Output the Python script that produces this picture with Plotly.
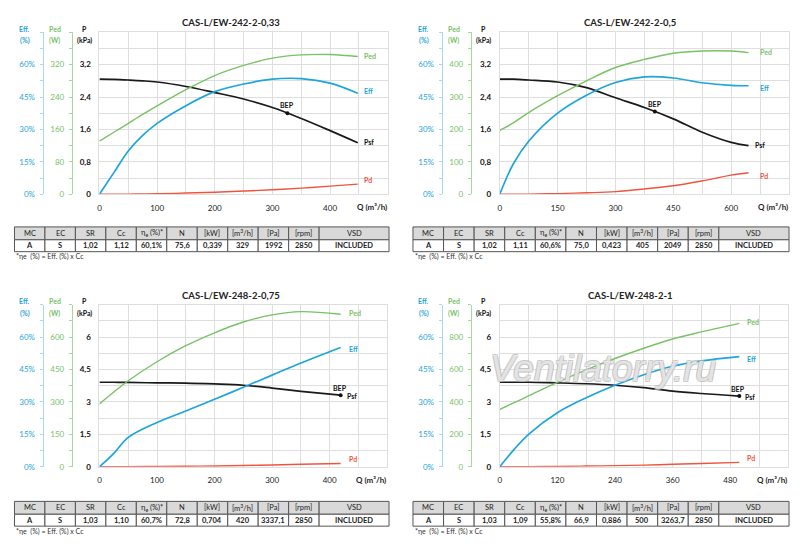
import plotly.graph_objects as go

W, H = 800, 548

titles = ["CAS-L/EW-242-2-0,33", "CAS-L/EW-242-2-0,5",
          "CAS-L/EW-248-2-0,75", "CAS-L/EW-248-2-1"]

# curve values (Q in m3/h, P in kPa, Eff in %, Ped in W)
q1 = [0, 25, 50, 75, 100, 150, 200, 250, 300, 350, 400, 448]
psf1 = [2.84, 2.835, 2.82, 2.80, 2.77, 2.66, 2.51, 2.35, 2.14, 1.87, 1.57, 1.27]
eff1 = [0, 10, 20, 27.2, 32.8, 41, 47.5, 51, 53.3, 53.5, 51.4, 46.7]
ped1 = [131, 153, 175, 197, 218, 258, 293, 318, 336, 344, 345, 340]
pd1 = [0, 0, 0.003, 0.007, 0.012, 0.028, 0.05, 0.078, 0.11, 0.15, 0.2, 0.25]
bep1 = [326, 2.0]

q2 = [0, 35, 75, 150, 225, 300, 375, 450, 525, 600, 645]
psf2 = [2.84, 2.84, 2.82, 2.77, 2.63, 2.38, 2.14, 1.86, 1.53, 1.28, 1.2]
eff2 = [0, 14, 24.5, 37.5, 45.8, 51.7, 54.3, 53.8, 51.6, 50.4, 50.2]
ped2 = [197, 220, 252, 304, 350, 391, 416, 435, 442, 442, 437]
pd2 = [0, 0, 0.003, 0.015, 0.035, 0.065, 0.13, 0.21, 0.33, 0.47, 0.53]
bep2 = [402, 2.04]

q3 = [0, 25, 50, 100, 150, 200, 250, 300, 350, 419]
psf3 = [3.91, 3.91, 3.90, 3.88, 3.87, 3.83, 3.77, 3.64, 3.49, 3.31]
eff3 = [0, 6.2, 13.6, 20.5, 25.8, 31.2, 36.8, 42.4, 48, 55.2]
ped3 = [291, 346, 398, 486, 560, 620, 670, 703, 718, 706]
pd3 = [0, 0, 0.002, 0.01, 0.02, 0.035, 0.055, 0.08, 0.11, 0.15]
bep3 = [419, 3.31]

q4 = [0, 30, 60, 120, 180, 240, 300, 360, 420, 499]
psf4 = [3.91, 3.91, 3.91, 3.88, 3.84, 3.77, 3.66, 3.5, 3.39, 3.27]
eff4 = [0, 8, 15, 25, 31.9, 37.7, 42.6, 46.5, 49, 51]
ped4 = [354, 395, 437, 521, 598, 668, 731, 788, 832, 885]
pd4 = [0, 0, 0.003, 0.012, 0.03, 0.05, 0.075, 0.11, 0.15, 0.2]
bep4 = [499, 3.27]

# tick labels
qticks = [[0, 100, 200, 300, 400], [0, 150, 300, 450, 600],
          [0, 100, 200, 300, 400], [0, 120, 240, 360, 480]]
pticks = [[0, 0.8, 1.6, 2.4, 3.2], [0, 0.8, 1.6, 2.4, 3.2],
          [0, 1.5, 3, 4.5, 6], [0, 1.5, 3, 4.5, 6]]
pedticks = [[0, 80, 160, 240, 320], [0, 100, 200, 300, 400],
            [0, 150, 300, 450, 600], [0, 200, 400, 600, 800]]
effticks = [0, 15, 30, 45, 60]
efflabels = ["0%", "15%", "30%", "45%", "60%"]

# tables
headers = ["MC", "EC", "SR", "Cc", "η<sub>e</sub> (%)*", "N", "[kW]",
           "[m<sup>3</sup>/h]", "[Pa]", "[rpm]", "VSD"]
table1 = ["A", "S", "1,02", "1,12", "60,1%", "75,6", "0,339", "329", "1992", "2850", "INCLUDED"]
table2 = ["A", "S", "1,02", "1,11", "60,6%", "75,0", "0,423", "405", "2049", "2850", "INCLUDED"]
table3 = ["A", "S", "1,03", "1,10", "60,7%", "72,8", "0,704", "420", "3337,1", "2850", "INCLUDED"]
table4 = ["A", "S", "1,03", "1,09", "55,8%", "66,9", "0,886", "500", "3263,7", "2850", "INCLUDED"]
footnote = "*ηe  (%) = Eff. (%) x Cc"

BLUE = "#1ea5dc"
GREEN = "#78c266"
RED = "#ef5440"
GRID = "#dedede"
FONT = "Lato"
colw = [30.5] * 10 + [70]

# panel geometry in pixels
panels = [
    dict(q=q1, psf=psf1, eff=eff1, ped=ped1, pd=pd1, bep=bep1, tab=table1,
         ox=0, oy=0, left=97.7, right=386.7, y0=196, qmax=500, pmax=4.0, pedmax=400,
         tx=[12.5, 388], ty=229, shift=4, beptop=True),
    dict(q=q2, psf=psf2, eff=eff2, ped=ped2, pd=pd2, bep=bep2, tab=table2,
         ox=400, oy=0, left=499, right=789, y0=196, qmax=750, pmax=4.0, pedmax=500,
         tx=[412, 789], ty=229, shift=9, beptop=True),
    dict(q=q3, psf=psf3, eff=eff3, ped=ped3, pd=pd3, bep=bep3, tab=table3,
         ox=0, oy=275, left=97.7, right=386.2, y0=471, qmax=500, pmax=7.5, pedmax=750,
         tx=[12.5, 388], ty=506, shift=6, beptop=False),
    dict(q=q4, psf=psf4, eff=eff4, ped=ped4, pd=pd4, bep=bep4, tab=table4,
         ox=400, oy=275, left=499, right=787.8, y0=471, qmax=600, pmax=7.5, pedmax=1000,
         tx=[412, 789], ty=506, shift=6, beptop=False),
]


def fx(px):
    return px / W


def fy(py):
    return 1 - py / H


def ref(letter, n):
    return letter if n == 1 else f"{letter}{n}"


def key(letter, n):
    return f"{letter}axis" if n == 1 else f"{letter}axis{n}"


fig = go.Figure()
layout = {}
ann = []
shapes = []

for i, p in enumerate(panels):
    nx = i + 1
    nP, nE, nD = 3 * i + 1, 3 * i + 2, 3 * i + 3
    xr, yP, yE, yD = ref("x", nx), ref("y", nP), ref("y", nE), ref("y", nD)
    top = p["y0"] - 163.5
    ydom = [fy(p["y0"]), fy(top)]

    layout[key("x", nx)] = dict(
        domain=[fx(p["left"]), fx(p["right"])], anchor=yP, range=[0, p["qmax"]],
        tickvals=qticks[i], showgrid=True, gridcolor=GRID, zeroline=False,
        minor=dict(dtick=p["qmax"] / 10, tick0=0, showgrid=True, gridcolor=GRID),
        showline=True, linecolor=GRID, mirror=True, ticks="",
        tickfont=dict(size=8, color="#222", family=FONT), ticklabelstandoff=6)
    layout[key("y", nP)] = dict(
        domain=ydom, anchor=xr, range=[0, p["pmax"]], tickvals=pticks[i],
        showgrid=True, gridcolor=GRID, zeroline=False,
        minor=dict(dtick=p["pmax"] / 10, tick0=0, showgrid=True, gridcolor=GRID),
        showline=True, linecolor=GRID, mirror=True, ticks="",
        tickfont=dict(size=8, color="#111", family=FONT, weight="bold"),
        ticklabelstandoff=6)
    layout[key("y", nE)] = dict(
        domain=ydom, overlaying=yP, anchor="free", position=fx(p["ox"] + 40.7),
        side="left", range=[0, 75], tickvals=effticks, ticktext=efflabels,
        showgrid=False, zeroline=False, showline=True, linecolor="#a9d9f0",
        ticks="outside", ticklen=3, tickcolor="#a9d9f0",
        minor=dict(dtick=7.5, tick0=0, ticks="outside", ticklen=3, tickcolor="#a9d9f0"),
        tickfont=dict(size=8, color=BLUE, family=FONT), ticklabelstandoff=3)
    layout[key("y", nD)] = dict(
        domain=ydom, overlaying=yP, anchor="free", position=fx(p["ox"] + 70),
        side="left", range=[0, p["pedmax"]], tickvals=pedticks[i],
        showgrid=False, zeroline=False, showline=True, linecolor="#a6d89e",
        ticks="outside", ticklen=3, tickcolor="#a6d89e",
        minor=dict(dtick=p["pedmax"] / 10, tick0=0, ticks="outside", ticklen=3,
                   tickcolor="#a6d89e"),
        tickfont=dict(size=8, color=GREEN, family=FONT), ticklabelstandoff=3)

    fig.add_trace(go.Scatter(x=p["q"], y=p["ped"], xaxis=xr, yaxis=yD, mode="lines",
                             line=dict(color=GREEN, width=1.4, shape="spline")))
    fig.add_trace(go.Scatter(x=p["q"], y=p["eff"], xaxis=xr, yaxis=yE, mode="lines",
                             line=dict(color=BLUE, width=1.7, shape="spline")))
    fig.add_trace(go.Scatter(x=p["q"], y=p["psf"], xaxis=xr, yaxis=yP, mode="lines",
                             line=dict(color="#1a1a1a", width=1.7, shape="spline")))
    fig.add_trace(go.Scatter(x=p["q"], y=p["pd"], xaxis=xr, yaxis=yP, mode="lines",
                             line=dict(color=RED, width=1.4, shape="spline")))
    fig.add_trace(go.Scatter(x=[p["bep"][0]], y=[p["bep"][1]], xaxis=xr, yaxis=yP,
                             mode="markers", marker=dict(color="#111", size=4)))

    qe = p["q"][-1]
    lab = dict(size=7, family=FONT, weight="bold")
    s = p["shift"]
    ann += [
        dict(x=qe, y=p["ped"][-1], xref=xr, yref=yD, text="Ped", xanchor="left",
             xshift=s, yshift=1, font=dict(color=GREEN, **lab)),
        dict(x=qe, y=p["eff"][-1], xref=xr, yref=yE, text="Eff", xanchor="left",
             xshift=s, yshift=-2 if i else 2, font=dict(color=BLUE, **lab)),
        dict(x=qe, y=p["psf"][-1], xref=xr, yref=yP, text="Psf", xanchor="left",
             xshift=4, yshift=1 if i < 2 else -1, font=dict(color="#111", **lab)),
        dict(x=qe, y=p["pd"][-1], xref=xr, yref=yP, text="Pd", xanchor="left",
             xshift=s, yshift=-3 if i == 1 else 4, font=dict(color=RED, **lab)),
        dict(x=p["bep"][0], y=p["bep"][1], xref=xr, yref=yP, text="BEP",
             xanchor="center", yanchor="bottom", yshift=2 if p["beptop"] else 1,
             xshift=0 if p["beptop"] else -1, font=dict(color="#111", **lab)),
    ]

    oy, ox = p["oy"], p["ox"]
    hdr = dict(size=7, family=FONT, weight="bold")
    ann += [
        dict(x=fx(ox + 230), y=fy(oy + 23), text="<b>" + titles[i] + "</b>",
             font=dict(size=9.5, color="#222", family=FONT)),
        dict(x=fx(ox + 23), y=fy(oy + 29), text="Eff.", font=dict(color=BLUE, **hdr)),
        dict(x=fx(ox + 23), y=fy(oy + 41), text="(%)", font=dict(color=BLUE, **hdr)),
        dict(x=fx(ox + 53), y=fy(oy + 29), text="Ped", font=dict(color=GREEN, **hdr)),
        dict(x=fx(ox + 53), y=fy(oy + 41), text="(W)", font=dict(color=GREEN, **hdr)),
        dict(x=fx(ox + 83), y=fy(oy + 29), text="P", font=dict(color="#111", **hdr)),
        dict(x=fx(ox + 83), y=fy(oy + 41), text="(kPa)", font=dict(color="#111", **hdr)),
        dict(x=fx(p["right"] + 1), y=fy(p["y0"] + 13), text="Q (m³/h)", xanchor="right",
             font=dict(size=8, color="#222", family=FONT, weight="bold")),
        dict(x=fx(ox + 12), y=fy(p["ty"] + 30), text=footnote, xanchor="left",
             font=dict(size=7, color="#333", family=FONT)),
    ]

    # parameter table drawn as cells
    x0, x1 = p["tx"]
    k = (x1 - x0) / sum(colw)
    edges = [x0]
    for w in colw:
        edges.append(edges[-1] + w * k)
    ty = p["ty"]
    rows = [(ty, ty + 13, headers, "#d9d9d9", "normal"),
            (ty + 13, ty + 25, p["tab"], "white", "bold")]
    for r0, r1, texts, fill, wt in rows:
        for c, t in enumerate(texts):
            shapes.append(dict(type="rect", xref="paper", yref="paper",
                               x0=fx(edges[c]), x1=fx(edges[c + 1]), y0=fy(r1), y1=fy(r0),
                               fillcolor=fill, line=dict(color="#555", width=1), layer="below"))
            ann.append(dict(x=fx((edges[c] + edges[c + 1]) / 2), y=fy((r0 + r1) / 2),
                            text=t, font=dict(size=7.5, color="#222", family=FONT, weight=wt)))

ann.append(dict(x=fx(603), y=fy(372), text="Ventilatorry.ru",
                font=dict(size=37, family="Liberation Sans", style="italic",
                          color="rgba(255,255,255,0.6)",
                          shadow="1px 1px 0 #b8b8b8, -1px -1px 0 #b8b8b8, "
                                 "1px -1px 0 #b8b8b8, -1px 1px 0 #b8b8b8")))

for a in ann:
    a.setdefault("xref", "paper")
    a.setdefault("yref", "paper")
    a.setdefault("xanchor", "center")
    a.setdefault("yanchor", "middle")
    a["showarrow"] = False

fig.update_layout(layout)
fig.update_layout(width=W, height=H, margin=dict(l=0, r=0, t=0, b=0),
                  paper_bgcolor="white", plot_bgcolor="white", showlegend=False,
                  separators=", ", annotations=ann, shapes=shapes, font=dict(family=FONT))

fig.write_html("out.html", config={"displayModeBar": False},
               post_script="document.body.style.margin='0';")
